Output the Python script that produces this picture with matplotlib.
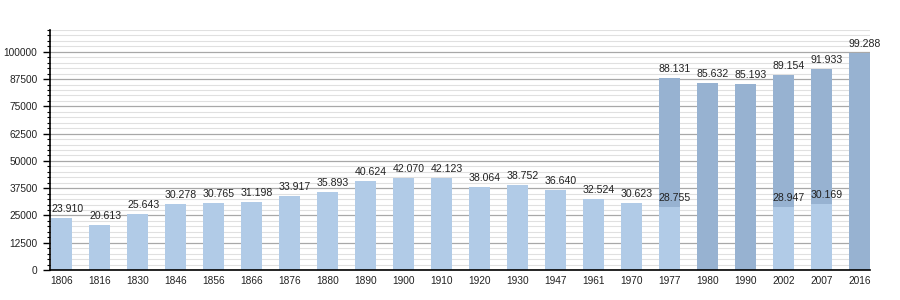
import matplotlib
matplotlib.use('Agg')
import matplotlib.pyplot as plt
import numpy as np
from matplotlib.ticker import MultipleLocator

years = ['1806', '1816', '1830', '1846', '1856', '1866', '1876', '1880', '1890', '1900', '1910',
         '1920', '1930', '1947', '1961', '1970', '1977', '1980', '1990', '2002', '2007', '2016']
# light part (old commune) and total (incl. merged communes); None = no split
light = [23910, 20613, 25643, 30278, 30765, 31198, 33917, 35893, 40624, 42070, 42123,
         38064, 38752, 36640, 32524, 30623, 28755, 0, 0, 28947, 30169, 0]
total = [23910, 20613, 25643, 30278, 30765, 31198, 33917, 35893, 40624, 42070, 42123,
         38064, 38752, 36640, 32524, 30623, 88131, 85632, 85193, 89154, 91933, 99288]

plt.rcParams['font.family'] = ['Liberation Sans', 'DejaVu Sans']

light_c = '#b1cbe7'
dark_c = '#97b2d1'
txt_c = '#222222'

fig = plt.figure(figsize=(9, 3), dpi=100)
ax = fig.add_axes([50 / 900, 0.1, 820 / 900, 0.8])

x = np.arange(len(years))
w = 0.553
dark = [t - l for t, l in zip(total, light)]
ax.bar(x, light, width=w, color=light_c, zorder=2)
ax.bar(x, dark, width=w, bottom=light, color=dark_c, zorder=2)

for i in range(len(years)):
    ax.annotate(f'{total[i] / 1000:.3f}', (x[i] - w / 2, total[i]), xytext=(0, 3),
                textcoords='offset points', ha='left', va='bottom',
                fontsize=7.6, color=txt_c, zorder=3)
    if light[i] and dark[i]:
        ax.annotate(f'{light[i] / 1000:.3f}', (x[i] - w / 2, light[i]), xytext=(0, 3),
                    textcoords='offset points', ha='left', va='bottom',
                    fontsize=7.6, color=txt_c, zorder=3)

ax.set_xlim(-0.303, 21.277)
ax.set_ylim(0, 110000)
ax.set_xticks(x)
ax.set_xticklabels(years)
ax.yaxis.set_major_locator(MultipleLocator(12500))
ax.yaxis.set_minor_locator(MultipleLocator(2500))
ax.yaxis.set_major_formatter(lambda v, p: f'{int(v)}' if v <= 100000 else '')
ax.grid(axis='y', which='major', color='#a8a8a8', linewidth=0.9, zorder=0)
ax.grid(axis='y', which='minor', color='#e0e0e0', linewidth=0.8, zorder=0)
ax.set_axisbelow(True)

ax.tick_params(axis='x', length=0, pad=4, labelsize=7.3, colors=txt_c)
ax.tick_params(axis='y', which='major', length=5, width=1, pad=4, labelsize=7.3, labelcolor=txt_c)
ax.tick_params(axis='y', which='minor', length=2.5, width=0.8)
for s in ['top', 'right']:
    ax.spines[s].set_visible(False)
ax.spines['left'].set_linewidth(1.2)
ax.spines['bottom'].set_linewidth(1.2)

fig.savefig('out.png', dpi=100, facecolor='w')
